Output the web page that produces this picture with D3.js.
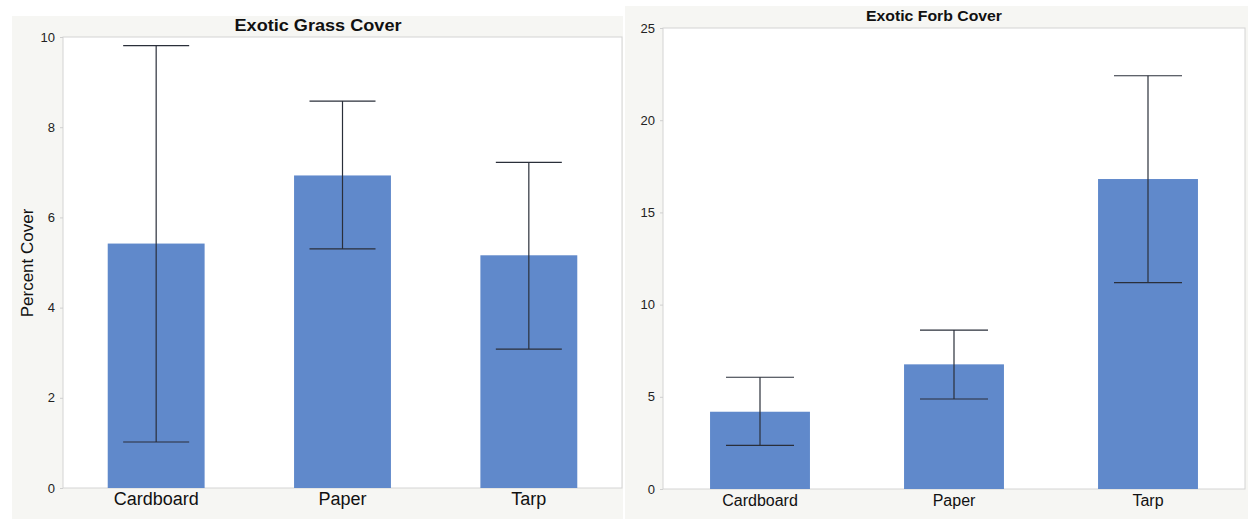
<!DOCTYPE html>
<html><head><meta charset="utf-8">
<script src="https://cdn.jsdelivr.net/npm/d3@7"></script>
<style>body{margin:0;background:#fff;}svg{display:block;font-family:"Liberation Sans",Arial,sans-serif;}</style>
</head><body>
<svg id="c" width="1248" height="519"></svg>
<script>
const categories = ["Cardboard", "Paper", "Tarp"];
const grassMean = [5.42, 6.93, 5.16];
const grassLow = [1.02, 5.30, 3.08];
const grassHigh = [9.81, 8.58, 7.22];
const grassTicks = [0, 2, 4, 6, 8, 10];
const forbMean = [4.19, 6.76, 16.81];
const forbLow = [2.37, 4.88, 11.19];
const forbHigh = [6.06, 8.62, 22.41];
const forbTicks = [0, 5, 10, 15, 20, 25];

const svg = d3.select("#c");
const barColor = "#6089cb";

function panel(cfg) {
  const g = svg.append("g");
  g.append("rect").attr("x", cfg.bx).attr("y", cfg.by).attr("width", cfg.bw).attr("height", cfg.bh).attr("fill", "#f6f6f3");
  const x = d3.scaleBand().domain(categories).range([cfg.x0, cfg.x1]).paddingInner(0).paddingOuter(0);
  const y = d3.scaleLinear().domain(cfg.domain).range([cfg.y0, cfg.y1]);
  g.append("rect").attr("x", cfg.x0).attr("y", cfg.y1).attr("width", cfg.x1 - cfg.x0).attr("height", cfg.y0 - cfg.y1)
    .attr("fill", "#fff").attr("stroke", "#d4d4d4").attr("stroke-width", 1);
  const bw = x.bandwidth() * cfg.barFrac;
  g.selectAll(".bar").data(categories).join("rect")
    .attr("x", d => x(d) + x.bandwidth() / 2 - bw / 2)
    .attr("width", bw)
    .attr("y", (d, i) => y(cfg.mean[i]))
    .attr("height", (d, i) => y(0) - y(cfg.mean[i]))
    .attr("fill", barColor);
  const cap = cfg.cap;
  categories.forEach((d, i) => {
    const cx = x(d) + x.bandwidth() / 2;
    g.append("line").attr("x1", cx).attr("x2", cx).attr("y1", y(cfg.low[i])).attr("y2", y(cfg.high[i])).attr("stroke", "#2a2f3a").attr("stroke-width", 1.2);
    [cfg.low[i], cfg.high[i]].forEach(v => {
      g.append("line").attr("x1", cx - cap / 2).attr("x2", cx + cap / 2).attr("y1", y(v)).attr("y2", y(v)).attr("stroke", "#2a2f3a").attr("stroke-width", 1.2);
    });
  });
  // y axis
  const ya = g.append("g").attr("transform", `translate(${cfg.x0},0)`)
    .call(d3.axisLeft(y).tickValues(cfg.ticks).tickSize(3).tickPadding(5));
  ya.select(".domain").remove();
  ya.selectAll("line").attr("stroke", "#cfcfcf");
  ya.selectAll("text").attr("font-size", 13).attr("fill", "#222");
  // x axis labels
  const xa = g.append("g").attr("transform", `translate(0,${cfg.y0})`)
    .call(d3.axisBottom(x).tickSize(0).tickPadding(cfg.xpad));
  xa.select(".domain").remove();
  xa.selectAll("text").attr("font-size", cfg.xsize).attr("fill", "#111");
  g.append("text").attr("x", cfg.tx).attr("y", cfg.ty).attr("text-anchor", "middle")
    .attr("font-weight", "bold").attr("font-size", cfg.tsize).attr("fill", "#111")
    .attr("textLength", cfg.tlen).attr("lengthAdjust", "spacingAndGlyphs").text(cfg.title);
  if (cfg.ylab) {
    g.append("text").attr("transform", `translate(33,263) rotate(-90)`).attr("text-anchor", "middle")
      .attr("font-size", 17).attr("fill", "#111").text(cfg.ylab);
  }
}

panel({bx: 12, by: 16, bw: 611, bh: 503, x0: 63, x1: 622, y0: 488, y1: 37, domain: [0, 10],
  mean: grassMean, low: grassLow, high: grassHigh, ticks: grassTicks, barFrac: 0.52, cap: 66,
  xsize: 18, xpad: 4,
  title: "Exotic Grass Cover", tx: 318, ty: 31, tsize: 16, tlen: 167, ylab: "Percent Cover"});
panel({bx: 625, by: 6, bw: 623, bh: 513, x0: 663, x1: 1245, y0: 489, y1: 28, domain: [0, 25],
  mean: forbMean, low: forbLow, high: forbHigh, ticks: forbTicks, barFrac: 0.515, cap: 68,
  xsize: 16, xpad: 6,
  title: "Exotic Forb Cover", tx: 934, ty: 21, tsize: 14, tlen: 136});
</script>
</body></html>
